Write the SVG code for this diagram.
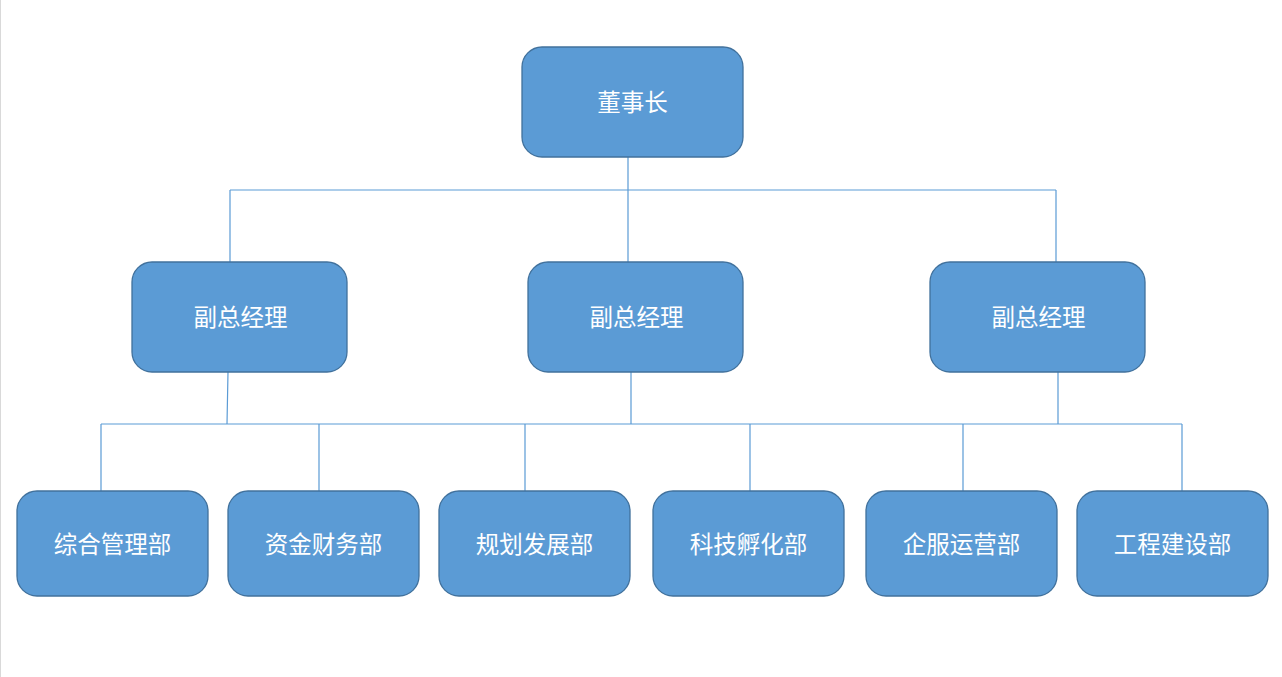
<svg xmlns="http://www.w3.org/2000/svg" width="1282" height="677" viewBox="0 0 1282 677">
<style>
.box{fill:#5b9bd5;stroke:#41719c;stroke-width:1.3}
.t{fill:#ffffff;font-family:"Microsoft YaHei","Noto Sans CJK SC",sans-serif;text-anchor:middle;dominant-baseline:central;font-size:23.5px}
.c{stroke:#5b9bd5;stroke-width:1.2;fill:none}
</style>
<rect x="0" y="0" width="1282" height="677" fill="#ffffff"/>
<line x1="0.5" y1="0" x2="0.5" y2="677" stroke="#d9d9d9" stroke-width="1"/>
<g id="connectors">
<path class="c" d="M628 157 V262 M230 190 H1056 M230 190 V262 M1056 190 V262"/>
<path class="c" d="M228 372 L227 424 M631 372 V424 M1058 372 V424 M101 424 H1182"/>
<path class="c" d="M101 424 V491 M319 424 V491 M525 424 V491 M750 424 V491 M963 424 V491 M1182 424 V491"/>
</g>
<g id="chairman"><rect class="box" x="522" y="47" width="221" height="110" rx="20"/><text class="t" x="632.5" y="101">董事长</text></g>
<g id="vp1"><rect class="box" x="132" y="262" width="215" height="110" rx="20"/><text class="t" x="240.5" y="316">副总经理</text></g>
<g id="vp2"><rect class="box" x="528" y="262" width="215" height="110" rx="20"/><text class="t" x="636.5" y="316">副总经理</text></g>
<g id="vp3"><rect class="box" x="930" y="262" width="215" height="110" rx="20"/><text class="t" x="1038.5" y="316">副总经理</text></g>
<g id="d1"><rect class="box" x="17" y="491" width="191" height="105" rx="20"/><text class="t" x="112.5" y="543">综合管理部</text></g>
<g id="d2"><rect class="box" x="228" y="491" width="191" height="105" rx="20"/><text class="t" x="323.5" y="543">资金财务部</text></g>
<g id="d3"><rect class="box" x="439" y="491" width="191" height="105" rx="20"/><text class="t" x="534.5" y="543">规划发展部</text></g>
<g id="d4"><rect class="box" x="653" y="491" width="191" height="105" rx="20"/><text class="t" x="748.5" y="543">科技孵化部</text></g>
<g id="d5"><rect class="box" x="866" y="491" width="191" height="105" rx="20"/><text class="t" x="961.5" y="543">企服运营部</text></g>
<g id="d6"><rect class="box" x="1077" y="491" width="191" height="105" rx="20"/><text class="t" x="1172.5" y="543">工程建设部</text></g>
</svg>
